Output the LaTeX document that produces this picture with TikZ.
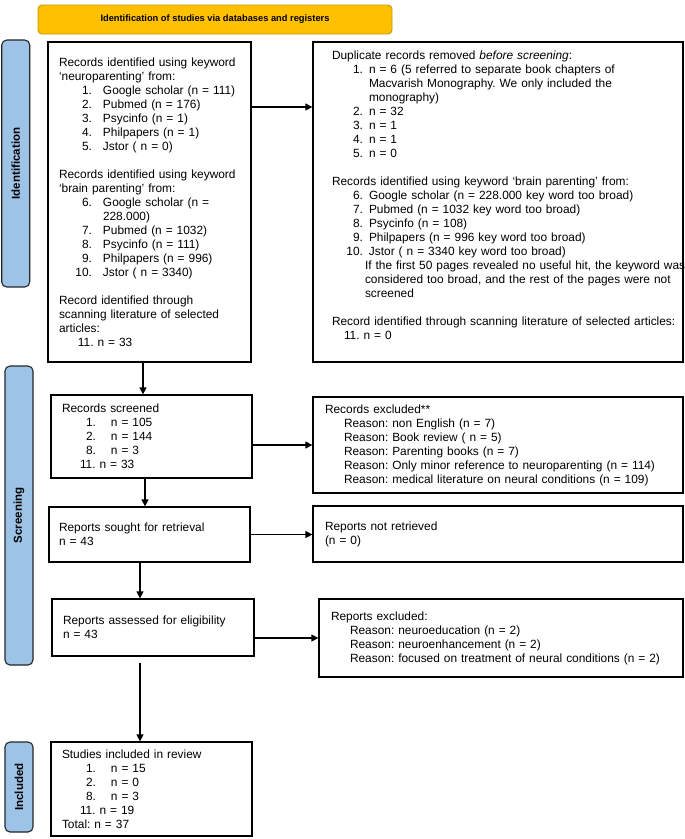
\documentclass[tikz,border=0pt]{standalone}
\usepackage{fontspec}
\setmainfont{Liberation Sans}
\usetikzlibrary{arrows.meta,positioning,calc}
\definecolor{prismagold}{HTML}{FFC000}
\definecolor{prismagoldline}{HTML}{C49A00}
\definecolor{prismablue}{HTML}{9DC3E6}
\definecolor{prismaline}{HTML}{262626}
\frenchspacing

\newcommand{\identitem}[2]{\mbox{\makebox[33pt][r]{#1}\hspace{11pt}#2}}
\newcommand{\dupitem}[2]{\mbox{\makebox[31pt][r]{#1}\hspace{6pt}#2}}
\newcommand{\countitem}[2]{\mbox{\makebox[34pt][r]{#1}\hspace{15pt}#2}}
\newcommand{\reason}[1]{\mbox{\hspace*{19pt}Reason: #1}}

\begin{document}
\begin{tikzpicture}[x=1pt,y=-1pt,
    box/.style={draw=black,line width=1.3pt,align=left,inner ysep=2pt,font=\fontsize{11.9}{14}\selectfont\frenchspacing},
    side/.style={draw=prismaline,line width=1.1pt,rounded corners=5pt,fill=prismablue,rotate=90,minimum height=28pt,font=\bfseries\fontsize{11.5}{13}\selectfont},
    arr/.style={-{Triangle[length=7pt,width=7pt]},line width=1.3pt}
]
\useasboundingbox (0,0) rectangle (685,839);

\node[draw=prismagoldline,fill=prismagold,rounded corners=4pt,line width=0.9pt,minimum width=354pt,minimum height=29pt,font=\bfseries\fontsize{9.3}{11}\selectfont] (banner) at (215,19.5) {Identification of studies via databases and registers};

\node[side,minimum width=247pt] (sideid) at (15.75,163.5) {Identification};
\node[side,minimum width=299pt] (sidescr) at (19,515.5) {Screening};
\node[side,minimum width=90pt] (sideinc) at (19,787) {Included};

\node[box,minimum width=203pt,minimum height=320pt,text width=181pt,inner xsep=11pt] (ident) at (149.5,202) {%
Records identified using keyword\\
`neuroparenting' from:\\
\identitem{1.}{Google scholar (n = 111)}\\
\identitem{2.}{Pubmed (n = 176)}\\
\identitem{3.}{Psycinfo (n = 1)}\\
\identitem{4.}{Philpapers (n = 1)}\\
\identitem{5.}{Jstor ( n = 0)}\\[14pt]
Records identified using keyword\\
`brain parenting' from:\\
\identitem{6.}{Google scholar (n =}\\
\identitem{}{228.000)}\\
\identitem{7.}{Pubmed (n = 1032)}\\
\identitem{8.}{Psycinfo (n = 111)}\\
\identitem{9.}{Philpapers (n = 996)}\\
\identitem{10.}{Jstor ( n = 3340)}\\[14pt]
Record identified through\\
scanning literature of selected\\
articles:\\
\hspace*{19pt}11.\ n = 33};

\node[box,minimum width=370pt,minimum height=320pt,text width=332pt,inner xsep=19pt] (dup) at (498,202) {%
Duplicate records removed \emph{before screening}:\\
\dupitem{1.}{n = 6 (5 referred to separate book chapters of}\\
\dupitem{}{Macvarish Monography. We only included the}\\
\dupitem{}{monography)}\\
\dupitem{2.}{n = 32}\\
\dupitem{3.}{n = 1}\\
\dupitem{4.}{n = 1}\\
\dupitem{5.}{n = 0}\\[14pt]
Records identified using keyword `brain parenting' from:\\
\dupitem{6.}{Google scholar (n = 228.000 key word too broad)}\\
\dupitem{7.}{Pubmed (n = 1032 key word too broad)}\\
\dupitem{8.}{Psycinfo (n = 108)}\\
\dupitem{9.}{Philpapers (n = 996 key word too broad)}\\
\dupitem{10.}{Jstor ( n = 3340 key word too broad)}\\
\mbox{\hspace*{33pt}If the first 50 pages revealed no useful hit, the keyword was}\\
\mbox{\hspace*{33pt}considered too broad, and the rest of the pages were not}\\
\mbox{\hspace*{33pt}screened}\\[14pt]
\mbox{Record identified through scanning literature of selected articles:}\\
\hspace*{12pt}11.\ n = 0\\
\mbox{}};

\node[box,minimum width=201pt,minimum height=83pt,text width=179pt,inner xsep=11pt] (screened) at (151.5,436.5) {%
Records screened\\
\countitem{1.}{n = 105}\\
\countitem{2.}{n = 144}\\
\countitem{8.}{n = 3}\\
\hspace*{18pt}11.\ n = 33};

\node[box,minimum width=370pt,minimum height=96pt,text width=346pt,inner xsep=12pt] (excluded) at (498,445) {%
Records excluded**\\
\reason{non English (n = 7)}\\
\reason{Book review ( n = 5)}\\
\reason{Parenting books (n = 7)}\\
\reason{Only minor reference to neuroparenting (n = 114)}\\
\reason{medical literature on neural conditions (n = 109)}};

\node[box,minimum width=201pt,minimum height=55pt,text width=181pt,inner xsep=10pt] (sought) at (149.5,534.5) {%
Reports sought for retrieval\\
n = 43};

\node[box,minimum width=370pt,minimum height=56pt,text width=346pt,inner xsep=12pt] (notretr) at (498,534) {%
Reports not retrieved\\
(n = 0)};

\node[box,minimum width=202pt,minimum height=57pt,text width=180pt,inner xsep=11pt] (assessed) at (153,627.5) {%
Reports assessed for eligibility\\
n = 43};

\node[box,minimum width=364pt,minimum height=78pt,text width=340pt,inner xsep=12pt] (repexcl) at (501,638) {%
Reports excluded:\\
\reason{neuroeducation (n = 2)}\\
\reason{neuroenhancement (n = 2)}\\
\reason{focused on treatment of neural conditions (n = 2)}};

\node[box,minimum width=201pt,minimum height=94pt,text width=179pt,inner xsep=11pt] (included) at (151.5,789) {%
Studies included in review\\
\countitem{1.}{n = 15}\\
\countitem{2.}{n = 0}\\
\countitem{8.}{n = 3}\\
\hspace*{18pt}11.\ n = 19\\
Total: n = 37};

\draw[arr] ([yshift=95pt]ident.east) -- ([yshift=95pt]dup.west);
\draw[arr] ([xshift=-6.5pt]ident.south) -- ([xshift=-6.5pt]ident.south |- screened.north);
\draw[arr] (screened.east |- excluded.west) -- (excluded.west);
\draw[arr] ([xshift=-6.5pt]screened.south) -- ([xshift=-6.5pt]screened.south |- sought.north);
\draw[arr] (sought.east) -- (sought.east -| notretr.west);
\draw[arr] ([xshift=-9.5pt]sought.south) -- ([xshift=-9.5pt]sought.south |- assessed.north);
\draw[arr] (assessed.east |- repexcl.west) -- (repexcl.west);
\draw[arr,shorten <=6pt] ([xshift=-13pt]assessed.south) -- ([xshift=-13pt]assessed.south |- included.north);
\end{tikzpicture}
\end{document}
